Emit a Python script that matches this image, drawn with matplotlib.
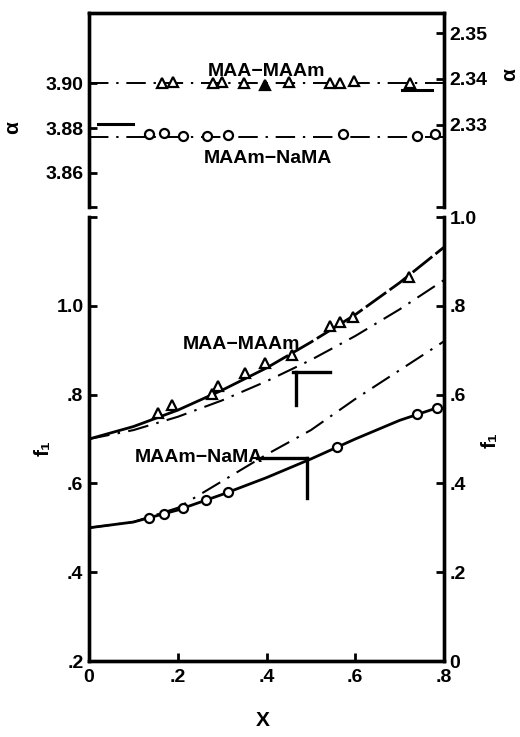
import matplotlib
matplotlib.use('Agg')
import matplotlib.pyplot as plt

plt.rcParams['font.family'] = ['Liberation Sans', 'DejaVu Sans']
plt.rcParams['font.weight'] = 'bold'

# ---------------- data: top panel (alpha) ----------------
tri_x_top = [0.165, 0.19, 0.279, 0.30, 0.35, 0.397, 0.45, 0.543, 0.566, 0.597, 0.723]
tri_alpha = [2.3390, 2.3393, 2.3390, 2.3393, 2.3391, 2.3386, 2.3394, 2.3390, 2.3390, 2.3395, 2.3392]
tri_filled = [False, False, False, False, False, True, False, False, False, False, False]
circ_x_top = [0.135, 0.169, 0.212, 0.266, 0.314, 0.572, 0.739, 0.78]
circ_alpha = [3.8772, 3.8779, 3.8764, 3.8764, 3.8767, 3.8775, 3.8764, 3.8775]
alpha_maa_maam = 2.3390    # right axis
alpha_maam_nama = 3.876    # left axis
alpha_x_range = [0.0, 0.8]
left_mark_x = [0.02, 0.099]
left_mark_y = 3.882
right_mark_x = [0.705, 0.773]
right_mark_y = 2.3375

# ---------------- data: bottom panel (f1) ----------------
tri_x = [0.155, 0.187, 0.277, 0.291, 0.352, 0.397, 0.457, 0.543, 0.566, 0.595, 0.721]
tri_f1 = [0.759, 0.777, 0.801, 0.819, 0.849, 0.871, 0.889, 0.955, 0.964, 0.975, 1.065]
circ_x = [0.135, 0.169, 0.212, 0.264, 0.313, 0.559, 0.739, 0.784]
circ_f1 = [0.522, 0.531, 0.545, 0.563, 0.581, 0.682, 0.756, 0.770]

curve_x = [0.0, 0.1, 0.2, 0.3, 0.4, 0.5, 0.6, 0.7, 0.8]
maa_maam_solid = [0.70, 0.728, 0.765, 0.81, 0.86, 0.918, 0.98, 1.052, 1.132]
maa_maam_dashdot = [0.70, 0.72, 0.75, 0.787, 0.83, 0.878, 0.932, 0.992, 1.058]
maam_nama_dashdot = [0.50, 0.513, 0.545, 0.605, 0.665, 0.72, 0.79, 0.855, 0.92]
nama_solid_x = [0.0, 0.1, 0.2, 0.3, 0.4, 0.5, 0.6, 0.7, 0.784]
maam_nama_solid = [0.50, 0.513, 0.54, 0.575, 0.613, 0.655, 0.70, 0.742, 0.77]

maa_mark_h_x = [0.460, 0.543]
maa_mark_v_x = [0.466, 0.466]
maa_mark_y = [0.852, 0.777]
nama_mark_h_x = [0.379, 0.491]
nama_mark_v_x = [0.491, 0.491]
nama_mark_y = [0.657, 0.567]

x_ticks = [0.0, 0.2, 0.4, 0.6, 0.8]
x_ticklabels = ['0', '.2', '.4', '.6', '.8']
f1_left_ticks = [0.2, 0.4, 0.6, 0.8, 1.0, 1.2]
f1_left_labels = ['.2', '.4', '.6', '.8', '1.0', '']
f1_right_ticks = [0.0, 0.2, 0.4, 0.6, 0.8, 1.0]
f1_right_labels = ['0', '.2', '.4', '.6', '.8', '1.0']
alpha_left_ticks = [3.86, 3.88, 3.90]
alpha_left_labels = ['3.86', '3.88', '3.90']
alpha_right_ticks = [2.33, 2.34, 2.35]
alpha_right_labels = ['2.33', '2.34', '2.35']

# ---------------- figure ----------------
W, H = 520, 737
fig = plt.figure(figsize=(W / 100, H / 100), dpi=100)

L, R = 89, 444
def box(top_px, bot_px):
    return [L / W, 1 - bot_px / H, (R - L) / W, (bot_px - top_px) / H]

ax_t = fig.add_axes(box(13, 207))
ax_t2 = ax_t.twinx()
ax_b = fig.add_axes(box(217, 661))
ax_b2 = ax_b.twinx()

SP = 2.4
FS = 14
dashdot = (0, (10, 4, 1.2, 4))

for a in (ax_t, ax_t2):
    a.spines['bottom'].set_visible(False)
    for s in ('top', 'left', 'right'):
        a.spines[s].set_linewidth(SP)
for a in (ax_b, ax_b2):
    a.spines['top'].set_visible(False)
    for s in ('bottom', 'left', 'right'):
        a.spines[s].set_linewidth(SP)

# ---- top panel ----
ax_t.set_xlim(0, 0.8)
ax_t.set_ylim(3.8447, 3.9315)
ax_t2.set_ylim(2.312, 2.3544)
ax_t.set_xticks([])
ax_t.set_yticks([3.8447] + alpha_left_ticks)
ax_t.set_yticklabels([''] + alpha_left_labels)
ax_t2.set_yticks([2.312] + alpha_right_ticks)
ax_t2.set_yticklabels([''] + alpha_right_labels)
for a in (ax_t, ax_t2):
    a.tick_params(axis='y', direction='in', length=6, width=2, labelsize=FS, pad=4)

ax_t.plot(alpha_x_range, [alpha_maam_nama] * 2, color='black', lw=1.4, ls=dashdot)
ax_t.plot(circ_x_top, circ_alpha, ls='none', marker='o', ms=6.5, mfc='white',
          mec='black', mew=1.6, zorder=5)
ax_t.plot(left_mark_x, [left_mark_y] * 2, color='black', lw=2.2)
ax_t2.plot(alpha_x_range, [alpha_maa_maam] * 2, color='black', lw=1.4, ls=dashdot)
for x, y, f in zip(tri_x_top, tri_alpha, tri_filled):
    ax_t2.plot([x], [y], ls='none', marker='^', ms=7, mfc='black' if f else 'white',
               mec='black', mew=1.6, zorder=5)
ax_t2.plot(right_mark_x, [right_mark_y] * 2, color='black', lw=2.2)
ax_t.text(0.268, 3.9055, 'MAA\u2212MAAm', fontsize=FS, ha='left', va='center')
ax_t.text(0.259, 3.8665, 'MAAm\u2212NaMA', fontsize=FS, ha='left', va='center')

# ---- bottom panel ----
ax_b.set_xlim(0, 0.8)
ax_b.set_ylim(0.2, 1.2)
ax_b2.set_ylim(0.0, 1.0)
ax_b.set_xticks(x_ticks)
ax_b.set_xticklabels(x_ticklabels)
ax_b.set_yticks(f1_left_ticks)
ax_b.set_yticklabels(f1_left_labels)
ax_b2.set_yticks(f1_right_ticks)
ax_b2.set_yticklabels(f1_right_labels)
ax_b.tick_params(axis='x', direction='in', length=6, width=2, labelsize=FS, pad=6)
for a in (ax_b, ax_b2):
    a.tick_params(axis='y', direction='in', length=6, width=2, labelsize=FS, pad=4)

ax_b.plot(curve_x[:5], maa_maam_solid[:5], color='black', lw=2.0)
ax_b.plot(curve_x[4:], maa_maam_solid[4:], color='black', lw=2.0, ls=(0, (9, 1.5)))
ax_b.plot(curve_x, maa_maam_dashdot, color='black', lw=1.5, ls=dashdot)
ax_b.plot(curve_x, maam_nama_dashdot, color='black', lw=1.5, ls=dashdot)
ax_b.plot(nama_solid_x, maam_nama_solid, color='black', lw=2.0)
ax_b.plot(tri_x, tri_f1, ls='none', marker='^', ms=7, mfc='white', mec='black',
          mew=1.6, zorder=5)
ax_b.plot(circ_x, circ_f1, ls='none', marker='o', ms=6.5, mfc='white', mec='black',
          mew=1.6, zorder=5)
ax_b.plot(maa_mark_h_x, [maa_mark_y[0]] * 2, color='black', lw=2.4)
ax_b.plot(maa_mark_v_x, maa_mark_y, color='black', lw=2.4)
ax_b.plot(nama_mark_h_x, [nama_mark_y[0]] * 2, color='black', lw=2.4)
ax_b.plot(nama_mark_v_x, nama_mark_y, color='black', lw=2.4)
ax_b.text(0.212, 0.912, 'MAA\u2212MAAm', fontsize=FS, ha='left', va='center')
ax_b.text(0.104, 0.659, 'MAAm\u2212NaMA', fontsize=FS, ha='left', va='center')

# ---- axis labels ----
fig.text(13 / W, 1 - 128 / H, '\u03b1', rotation=90, fontsize=15, ha='center', va='center')
fig.text(510 / W, 1 - 75 / H, '\u03b1', rotation=90, fontsize=15, ha='center', va='center')
fig.text(43 / W, 1 - 448 / H, 'f\u2081', rotation=90, fontsize=15, ha='center', va='center')
fig.text(490 / W, 1 - 440 / H, 'f\u2081', rotation=90, fontsize=15, ha='center', va='center')
fig.text(263 / W, 1 - 720 / H, 'X', fontsize=15, ha='center', va='center')

fig.savefig('out.png', dpi=100, facecolor='white')
